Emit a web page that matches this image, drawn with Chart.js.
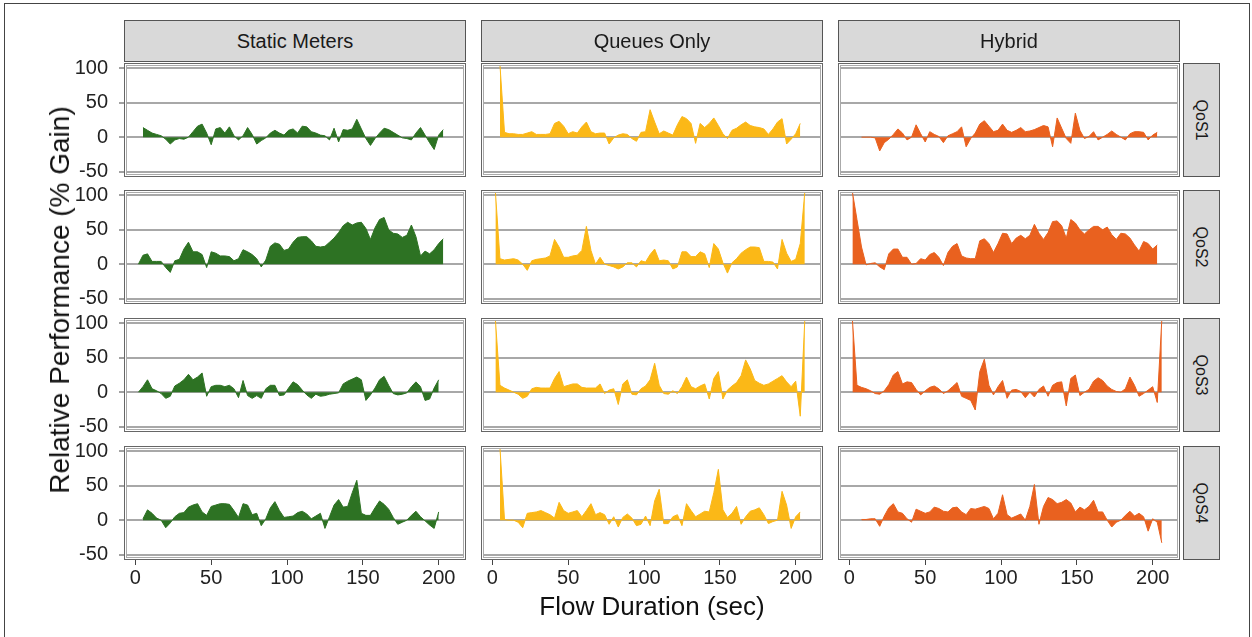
<!DOCTYPE html>
<html>
<head>
<meta charset="utf-8">
<script src="https://cdn.jsdelivr.net/npm/chart.js@4.4.1/dist/chart.umd.min.js"></script>
<style>
  body { margin: 0; background: #fff; width: 1252px; height: 637px; overflow: hidden; position: relative;
         font-family: "Liberation Sans", Arial, sans-serif; }
  .frame { position: absolute; left: 4px; top: 3px; width: 1246px; height: 650px; border: 1px solid #444; box-sizing: border-box; }
  canvas { position: absolute; }
  .panelBox { position: absolute; box-sizing: border-box; border: 1px solid #666;
              box-shadow: inset 0 0 0 1px #fff, inset 0 0 0 2px #aaa; pointer-events: none; }
  .strip { position: absolute; box-sizing: border-box; background: #d9d9d9; border: 1px solid #555;
           display: flex; align-items: center; justify-content: center; font-size: 20px; color: #1a1a1a; }
  .strip span { white-space: nowrap; }
  .rstrip { font-size: 16px; }
  .rstrip span { transform: rotate(90deg); }
  .title { position: absolute; font-size: 26px; color: #111; white-space: nowrap; transform: translate(-50%, -50%); }
</style>
</head>
<body>
<div class="frame"></div>
<script>
// flow duration (sec) sample points shared by all panels
var flowDuration = [2, 5, 8, 11, 14, 17, 20, 23, 26, 29, 32, 35, 38, 41, 44, 47, 50, 53, 56, 59,
  62, 65, 68, 71, 74, 77, 80, 83, 86, 89, 92, 95, 98, 101, 104, 107, 110, 113, 116, 119,
  122, 125, 128, 131, 134, 137, 140, 143, 146, 149, 152, 155, 158, 161, 164, 167, 170, 173, 176, 179,
  182, 185, 188, 191, 194, 197, 200, 203, 206];

// relative performance (% gain)
var staticQoS1 = [null,
  14, 10, 6, 4, 2, -3, -10, -4, -2, -3,
  0, 8, 16, 19, 6, -11, 12, 14, 6, 15,
  2, -4, 2, 14, 4, -10, -5, -1, 6, 10,
  6, 3, 10, 12, 6, 16, 15, 8, 6, 3,
  2, -4, 13, -7, 11, 10, 12, 26, 12, -2,
  -12, -2, 6, 13, 11, 7, 3, -1, -2, -4,
  6, 14, 3, -8, -18, 3, 11, null];
var queuesQoS1 = [null,
  105, 7, 5, 5, 4, 4, 6, 8, 4, 4,
  4, 5, 20, 23, 16, 5, 8, 6, 15, 22,
  8, 5, 6, 6, -10, -1, 3, 5, 4, -2,
  -6, 7, 8, 40, 22, 5, 9, 6, 3, 18,
  30, 27, 20, -9, 20, 14, 20, 28, 17, 5,
  -2, 10, 13, 18, 22, 17, 15, 14, 12, 4,
  12, 22, 27, -10, -3, 5, 20, null];
var hybridQoS1 = [null, null,
  0, 0, 0, -1, -20, -8, -3, 4, 12, 6,
  -4, 0, 18, 5, -7, 8, 4, 1, -8, 2,
  5, 8, 15, -14, -2, 6, 19, 24, 16, 8,
  10, 19, 10, 7, 10, 14, 8, 9, 11, 14,
  17, 15, -14, 28, 13, -2, -9, 35, 10, -2,
  1, 8, -4, 0, 4, 9, 4, 0, -4, 5,
  8, 8, 7, -4, 3, 7, null];

var staticQoS2 = [0, 13, 15, 4, 4, 4, -5, -12, 5, 7,
  22, 32, 18, 18, 14, -5, 18, 16, 12, 12,
  11, 5, 8, 21, 18, 14, 8, -4, 6, 26,
  31, 29, 20, 22, 32, 39, 40, 40, 34, 26,
  25, 26, 32, 38, 46, 56, 61, 57, 60, 61,
  52, 36, 53, 65, 68, 50, 45, 44, 39, 42,
  57, 40, 12, 19, 15, 21, 30, 37, null];
var queuesQoS2 = [105, 8, 6, 7, 8, 6, 0, -9, 5, 7,
  8, 9, 12, 36, 25, 10, 10, 12, 13, 20,
  55, 20, 0, 10, 0, -2, -4, -7, -4, 2,
  2, -4, 5, 3, 14, 22, 5, 6, 5, -7,
  -4, 18, 18, 11, 11, 18, 15, -5, 30, 22,
  2, -13, 2, 8, 16, 21, 25, 25, 24, 4,
  4, 3, -7, 36, 16, 4, 7, 30, 105];
var hybridQoS2 = [105, 65, 25, -1, 1, 2, -4, -8, 15, 22,
  22, 10, 10, 0, 1, 8, 6, 14, 17, 10,
  -2, 17, 26, 30, 12, 9, 8, 8, 34, 37,
  30, 17, 30, 45, 44, 30, 38, 42, 37, 42,
  58, 45, 36, 46, 62, 63, 56, 38, 65, 60,
  50, 44, 50, 55, 55, 50, 54, 43, 36, 45,
  44, 38, 28, 19, 33, 30, 22, 28, null];

var staticQoS3 = [0, 8, 18, 5, 2, -2, -9, -6, 9, 13,
  18, 26, 18, 22, 28, -6, 8, 10, 10, 8,
  10, 5, -8, 17, -5, -9, -5, -9, 5, 10,
  10, -5, -4, 6, 15, 11, 3, -4, -9, -3,
  -6, -5, -3, -2, -1, 12, 16, 19, 22, 18,
  -12, -4, 6, 18, 23, 10, -2, -4, -3, -1,
  8, 15, 8, -12, -10, 6, 18, null, null];
var queuesQoS3 = [105, 10, 6, 3, 0, -3, -9, -6, 5, 7,
  6, 6, 6, 20, 30, 8, 10, 12, 12, 7,
  6, 6, 6, 12, -2, 3, 5, -18, 12, 18,
  -3, -4, 5, 9, 18, 42, 10, -2, -3, 2,
  -2, 8, 22, 8, 5, 9, 12, -10, 20, 30,
  -10, 3, 9, 14, 24, 47, 34, 17, 13, 10,
  12, 16, 20, 24, 15, 8, 16, -35, 105];
var hybridQoS3 = [105, 10, 7, 5, 2, -2, -3, 2, 11, 25,
  30, 12, 15, 14, 4, -4, 2, 7, 9, 5,
  -2, 2, 8, 14, -6, -9, -12, -26, 30, 48,
  10, -4, 8, 17, -9, 3, 4, 1, -8, 0,
  -7, 4, 9, -6, 10, 14, 15, -20, 20, 25,
  -5, 0, 4, 16, 21, 17, 9, 4, 1, 0,
  5, 22, 10, -6, -2, 3, 8, -15, 105];

var staticQoS4 = [null, 2, 15, 10, 3, 0, -11, -4, 5, 10,
  11, 19, 22, 24, 12, 7, 20, 22, 24, 24,
  23, 14, 4, 24, 22, 8, 10, -8, 2, 18,
  27, 14, 4, 5, 6, 11, 13, 9, 2, 6,
  10, -12, 5, 22, 30, 19, 20, 40, 58, 10,
  7, 7, 18, 28, 23, 16, 4, -6, -3, 0,
  7, 13, 5, -1, -7, -12, 12, null, null];
var queuesQoS4 = [null, 105, 1, 0, 0, -3, -11, 10, 11, 12,
  14, 11, 8, 3, 26, 14, 10, 12, 14, 5,
  14, 24, 8, 11, 8, -6, 5, -10, 4, 9,
  3, -8, -6, 6, -8, 28, 45, -5, -5, 5,
  8, -8, 24, 14, 5, 9, 13, 12, 40, 74,
  15, 4, 10, 20, -6, 5, 13, 15, 18, 8,
  -5, -2, 0, 42, 22, -12, 5, 12, null];
var hybridQoS4 = [null, null, 1, 1, 2, 2, -9, 6, 18, 24,
  12, 10, 2, -3, 16, 13, 10, 12, 19, 17,
  13, 12, 18, 19, 12, 8, 17, 16, 18, 20,
  17, 2, 10, 37, 8, 3, 6, 9, 0, 20,
  52, -6, 20, 33, 30, 24, 26, 30, 25, 12,
  19, 15, 20, 29, 12, 12, 0, -10, -3, 0,
  7, 13, 6, 10, 5, -16, 2, -3, -33];

var facetCols = ['Static Meters', 'Queues Only', 'Hybrid'];
var facetRows = ['QoS1', 'QoS2', 'QoS3', 'QoS4'];
var colColors = ['#2d7223', '#fbb817', '#e9611f'];
var seriesGrid = [
  [staticQoS1, queuesQoS1, hybridQoS1],
  [staticQoS2, queuesQoS2, hybridQoS2],
  [staticQoS3, queuesQoS3, hybridQoS3],
  [staticQoS4, queuesQoS4, hybridQoS4]
];
var yTicks = [-50, 0, 50, 100];
var xTicks = [0, 50, 100, 150, 200];

var colLeft = [124, 481, 838];
var rowTop = [63, 190, 318, 446];
var panelW = 342, panelH = 114;
var tickFont = { size: 20, family: '"Liberation Sans", Arial, sans-serif' };

function addDiv(cls, left, top, width, height, text) {
  var d = document.createElement('div');
  d.className = cls;
  d.style.left = left + 'px';
  d.style.top = top + 'px';
  if (width != null) d.style.width = width + 'px';
  if (height != null) d.style.height = height + 'px';
  if (text) {
    var s = document.createElement('span');
    s.textContent = text;
    d.appendChild(s);
  }
  document.body.appendChild(d);
  return d;
}

function buildPanel(r, c) {
  var yAxisW = c === 0 ? 66 : 0;
  var xAxisH = r === 3 ? 36 : 0;
  // generous padding so overflowing tick labels never shrink the chart area
  var padTop = 24, padBottom = r === 3 ? 0 : 24;
  var w = panelW + yAxisW, h = panelH + padTop + padBottom + xAxisH;
  var canvas = document.createElement('canvas');
  canvas.width = w;
  canvas.height = h;
  canvas.style.left = (colLeft[c] - yAxisW) + 'px';
  canvas.style.top = (rowTop[r] - padTop) + 'px';
  canvas.style.width = w + 'px';
  canvas.style.height = h + 'px';
  document.body.appendChild(canvas);

  var values = seriesGrid[r][c];
  new Chart(canvas.getContext('2d'), {
    type: 'line',
    data: {
      datasets: [{
        data: flowDuration.map(function (x, i) { return { x: x, y: values[i] }; }),
        backgroundColor: colColors[c],
        borderColor: colColors[c],
        borderWidth: 1,
        fill: 'origin',
        pointRadius: 0,
        tension: 0
      }]
    },
    options: {
      responsive: false,
      animation: false,
      devicePixelRatio: 1,
      layout: { padding: { top: padTop, bottom: padBottom, left: 0, right: 0 } },
      plugins: { legend: { display: false }, tooltip: { enabled: false } },
      scales: {
        x: {
          type: 'linear', min: -7.5, max: 218,
          display: r === 3,
          afterBuildTicks: function (s) { s.ticks = xTicks.map(function (v) { return { value: v }; }); },
          afterFit: function (s) { s.height = xAxisH; },
          grid: { drawOnChartArea: false, drawTicks: true, tickLength: 5, tickColor: '#444', tickWidth: 1 },
          border: { display: false },
          ticks: { font: tickFont, color: '#222', padding: 1, maxRotation: 0, autoSkip: false }
        },
        y: {
          type: 'linear', min: -58, max: 108,
          afterBuildTicks: function (s) { s.ticks = yTicks.map(function (v) { return { value: v }; }); },
          afterFit: function (s) { s.width = yAxisW; },
          grid: { color: '#a8a8a8', lineWidth: 2, drawTicks: c === 0, tickLength: 5, tickColor: '#444', tickWidth: 1 },
          border: { display: false },
          ticks: { display: c === 0, font: tickFont, color: '#222', padding: 11 }
        }
      }
    }
  });
  addDiv('panelBox', colLeft[c], rowTop[r], panelW, panelH);
}

for (var r = 0; r < facetRows.length; r++) {
  for (var c = 0; c < facetCols.length; c++) {
    buildPanel(r, c);
  }
  addDiv('strip rstrip', 1183, rowTop[r], 37, panelH, facetRows[r]);
}
for (var c = 0; c < facetCols.length; c++) {
  addDiv('strip', colLeft[c], 20, panelW, 42, facetCols[c]);
}

addDiv('title', 652, 606, null, null, 'Flow Duration (sec)');
var yt = addDiv('title', 60, 300, null, null, 'Relative Performance (% Gain)');
yt.style.fontSize = '28px';
yt.style.transform = 'translate(-50%, -50%) rotate(-90deg)';
</script>
</body>
</html>
